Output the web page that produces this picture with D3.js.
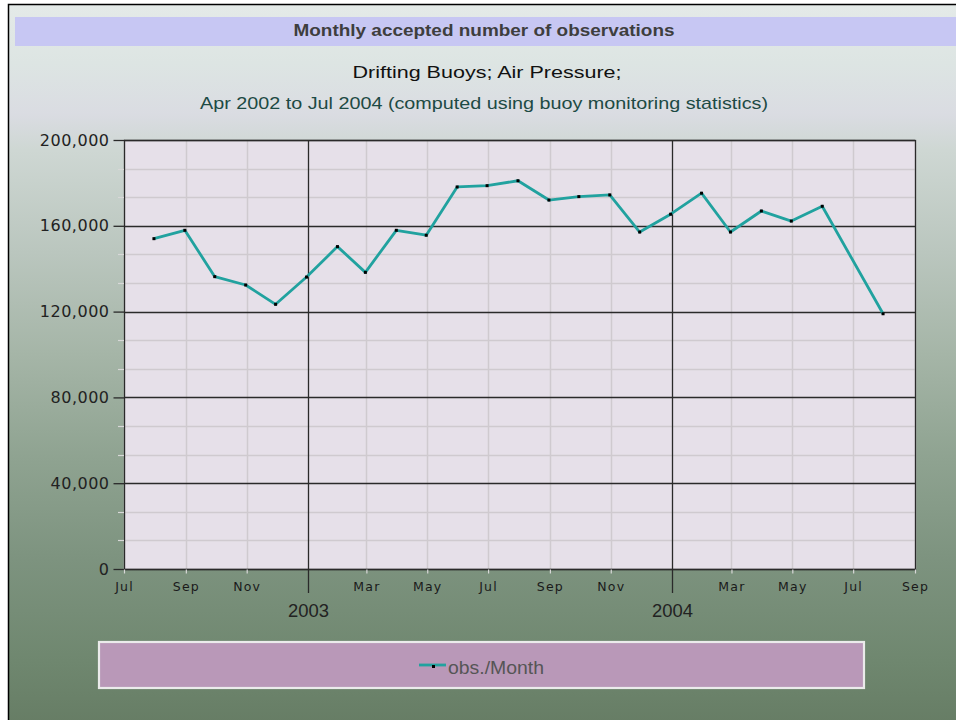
<!DOCTYPE html>
<html>
<head>
<meta charset="utf-8">
<script src="https://cdn.jsdelivr.net/npm/d3@7"></script>
<style>
  body { margin: 0; background: #ffffff; }
  svg { display: block; }
</style>
</head>
<body>
<svg id="chart" width="956" height="720"></svg>
<script>
// Monthly accepted observation counts (drifting buoys, air pressure)
const months = [
  "2002-07", "2002-08", "2002-09", "2002-10", "2002-11", "2002-12",
  "2003-01", "2003-02", "2003-03", "2003-04", "2003-05", "2003-06",
  "2003-07", "2003-08", "2003-09", "2003-10", "2003-11", "2003-12",
  "2004-01", "2004-02", "2004-03", "2004-04", "2004-05", "2004-07"
];
const obsPerMonth = [
  154000, 157900, 136300, 132400, 123400, 136100,
  150300, 138300, 157900, 155600, 178100, 178700,
  181000, 172000, 173600, 174400, 157100, 165400,
  175200, 157100, 166900, 162200, 169100, 119000
];
const yTicks = [0, 40000, 80000, 120000, 160000, 200000];
const xDomain = ["2002-07-01", "2004-09-01"];
const titleText = "Monthly accepted number of observations";
const subtitle1 = "Drifting Buoys; Air Pressure;";
const subtitle2 = "Apr 2002 to Jul 2004 (computed using buoy monitoring statistics)";
const seriesName = "obs./Month";

const svg = d3.select("#chart");
const W = 956, H = 720;
const plot = { left: 124, right: 915, top: 140, bottom: 569 };
const narrowFont = "'Liberation Sans Narrow', 'Liberation Sans', Arial, sans-serif";
const wideFont = "'DejaVu Sans', Verdana, sans-serif";

const parseMonth = d3.timeParse("%Y-%m");
const parseDay = d3.timeParse("%Y-%m-%d");
// each monthly total is plotted at the last day of its month
const points = months.map((m, i) => {
  const start = parseMonth(m);
  const end = d3.timeDay.offset(d3.timeMonth.offset(start, 1), -1);
  return { date: end, value: obsPerMonth[i] };
});

const x = d3.scaleTime().domain(xDomain.map(parseDay)).range([plot.left, plot.right]);
const y = d3.scaleLinear().domain([0, 200000]).range([plot.bottom, plot.top]);

// ---- background ----
const defs = svg.append("defs");
const bg = defs.append("linearGradient").attr("id", "bgGrad")
  .attr("x1", 0).attr("y1", 0).attr("x2", 0).attr("y2", 1);
[
  [0.00, "#e4eae8"], [0.08, "#dde5e3"], [0.15, "#dadce2"], [0.20, "#ced7d3"],
  [0.34, "#bac6be"], [0.48, "#a5b5a7"], [0.62, "#8fa391"], [0.76, "#7d937f"],
  [0.90, "#6f876f"], [1.00, "#657b63"]
].forEach(([o, c]) => bg.append("stop").attr("offset", o).attr("stop-color", c));

svg.append("rect").attr("x", 0).attr("y", 0).attr("width", W).attr("height", H).attr("fill", "#ffffff");
svg.append("rect").attr("x", 8.5).attr("y", 4.5).attr("width", W + 10).attr("height", H + 10)
  .attr("fill", "url(#bgGrad)").attr("stroke", "#000").attr("stroke-width", 1.5);

// title band
svg.append("rect").attr("x", 15).attr("y", 17).attr("width", W).attr("height", 29).attr("fill", "#c7c7f3");
svg.append("text").attr("x", 484).attr("y", 36).attr("text-anchor", "middle")
  .attr("font-family", narrowFont)
  .attr("font-weight", "bold").attr("font-size", 17).attr("fill", "#3e3e3e")
  .attr("textLength", 381).attr("lengthAdjust", "spacingAndGlyphs")
  .text(titleText);
svg.append("text").attr("x", 487).attr("y", 78).attr("text-anchor", "middle")
  .attr("font-family", narrowFont)
  .attr("font-size", 17).attr("fill", "#111111")
  .attr("textLength", 269).attr("lengthAdjust", "spacingAndGlyphs")
  .text(subtitle1);
svg.append("text").attr("x", 484).attr("y", 109).attr("text-anchor", "middle")
  .attr("font-family", narrowFont)
  .attr("font-size", 17).attr("fill", "#1d4a44")
  .attr("textLength", 568).attr("lengthAdjust", "spacingAndGlyphs")
  .text(subtitle2);

// ---- plot area ----
svg.append("rect").attr("x", plot.left).attr("y", plot.top)
  .attr("width", plot.right - plot.left).attr("height", plot.bottom - plot.top)
  .attr("fill", "#e6e0e9");

const grid = svg.append("g");
// minor horizontal grid (thirds between major ticks)
const minorY = d3.range(0, 200001, 40000 / 3).filter(v => Math.abs(v / 40000 - Math.round(v / 40000)) > 1e-6);
grid.selectAll(".hminor").data(minorY).join("line")
  .attr("x1", plot.left).attr("x2", plot.right)
  .attr("y1", d => Math.round(y(d)) + 0.5).attr("y2", d => Math.round(y(d)) + 0.5)
  .attr("stroke", "#cfcacf").attr("stroke-width", 1.5);

const monthTicks = x.ticks(d3.timeMonth.every(2));
const minorX = monthTicks.filter(d => d.getMonth() !== 0);
const yearTicks = monthTicks.filter(d => d.getMonth() === 0);
grid.selectAll(".vminor").data(minorX).join("line")
  .attr("y1", plot.top).attr("y2", plot.bottom)
  .attr("x1", d => Math.round(x(d)) + 0.5).attr("x2", d => Math.round(x(d)) + 0.5)
  .attr("stroke", "#cfcacf").attr("stroke-width", 1.5);

// major horizontal grid lines
grid.selectAll(".hmajor").data(yTicks).join("line")
  .attr("x1", plot.left).attr("x2", plot.right)
  .attr("y1", d => Math.round(y(d)) + 0.5).attr("y2", d => Math.round(y(d)) + 0.5)
  .attr("stroke", "#2a2a2a").attr("stroke-width", 1.3);
// year lines, reaching down below the axis
grid.selectAll(".vmajor").data(yearTicks).join("line")
  .attr("y1", plot.top).attr("y2", 593)
  .attr("x1", d => Math.round(x(d)) + 0.5).attr("x2", d => Math.round(x(d)) + 0.5)
  .attr("stroke", "#2a2a2a").attr("stroke-width", 1.3);

// plot frame
svg.append("rect").attr("x", plot.left + 0.5).attr("y", plot.top + 0.5)
  .attr("width", plot.right - plot.left).attr("height", plot.bottom - plot.top)
  .attr("fill", "none").attr("stroke", "#2a2a2a").attr("stroke-width", 1.3);

// ---- y axis ----
const yAxis = d3.axisLeft(y).tickValues(yTicks).tickFormat(d3.format(",")).tickSize(11).tickPadding(4);
const gy = svg.append("g").attr("transform", `translate(${plot.left + 0.5},0)`).call(yAxis);
gy.select(".domain").remove();
gy.selectAll(".tick line").attr("stroke", "#2a2a2a").attr("stroke-width", 1.3);
gy.selectAll(".tick text")
  .attr("font-family", wideFont).attr("font-size", 16)
  .attr("letter-spacing", 0.5).attr("fill", "#222222");
// minor y ticks
svg.append("g").selectAll("line").data(minorY).join("line")
  .attr("x1", plot.left - 6).attr("x2", plot.left)
  .attr("y1", d => Math.round(y(d)) + 0.5).attr("y2", d => Math.round(y(d)) + 0.5)
  .attr("stroke", "#d8d8d8").attr("stroke-width", 1.2);

// ---- x axis ----
const xAxis = d3.axisBottom(x).tickValues(minorX).tickFormat(d3.timeFormat("%b")).tickSize(4).tickPadding(9);
const gx = svg.append("g").attr("transform", `translate(0,${plot.bottom + 0.5})`).call(xAxis);
gx.select(".domain").remove();
gx.selectAll(".tick line").attr("stroke", "#d8d8d8").attr("stroke-width", 1.2);
gx.selectAll(".tick text")
  .attr("font-family", wideFont).attr("font-size", 12.5)
  .attr("letter-spacing", 1.2).attr("fill", "#1a1a1a");

svg.append("g").selectAll("text").data(yearTicks).join("text")
  .attr("x", d => x(d) + 1).attr("y", 617).attr("text-anchor", "middle")
  .attr("font-family", narrowFont)
  .attr("font-size", 18).attr("fill", "#222222")
  .attr("textLength", 41).attr("lengthAdjust", "spacingAndGlyphs")
  .text(d3.timeFormat("%Y"));

// ---- series ----
const line = d3.line().x(d => x(d.date)).y(d => y(d.value));
svg.append("path").datum(points).attr("d", line)
  .attr("fill", "none").attr("stroke", "#21a29f").attr("stroke-width", 2.8)
  .attr("stroke-linejoin", "round");
svg.append("g").selectAll("rect").data(points).join("rect")
  .attr("x", d => x(d.date) - 1.5).attr("y", d => y(d.value) - 1.5)
  .attr("width", 3).attr("height", 3).attr("fill", "#000000");

// ---- legend ----
svg.append("rect").attr("x", 99).attr("y", 642).attr("width", 765).attr("height", 46)
  .attr("fill", "#b998b8").attr("stroke", "#ebebeb").attr("stroke-width", 2.2);
svg.append("line").attr("x1", 419).attr("x2", 446).attr("y1", 665).attr("y2", 665)
  .attr("stroke", "#21a29f").attr("stroke-width", 2.8);
svg.append("rect").attr("x", 432).attr("y", 665).attr("width", 3).attr("height", 3).attr("fill", "#000");
svg.append("text").attr("x", 448).attr("y", 674)
  .attr("font-family", narrowFont)
  .attr("font-size", 18).attr("fill", "#555555")
  .attr("textLength", 96).attr("lengthAdjust", "spacingAndGlyphs")
  .text(seriesName);
</script>
</body>
</html>
